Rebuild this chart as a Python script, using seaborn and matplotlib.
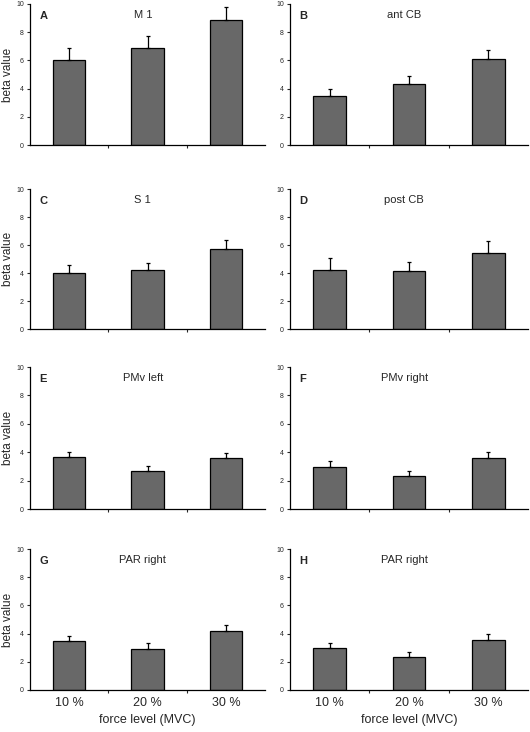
import matplotlib
matplotlib.use("Agg")
import matplotlib.pyplot as plt
import seaborn as sns
import pandas as pd
import numpy as np

sns.set_theme(style="white")
plt.rcParams['font.family'] = ['Liberation Sans', 'DejaVu Sans']

force_levels = ["10 %", "20 %", "30 %"]
letters = ["A", "B", "C", "D", "E", "F", "G", "H"]
regions = ["M 1", "ant CB", "S 1", "post CB", "PMv left", "PMv right", "PAR right", "PAR right"]

m1_mean = [6.0, 6.9, 8.9]
m1_err = [0.9, 0.85, 0.9]
antcb_mean = [3.45, 4.3, 6.1]
antcb_err = [0.52, 0.57, 0.62]
s1_mean = [4.02, 4.2, 5.68]
s1_err = [0.55, 0.5, 0.68]
postcb_mean = [4.25, 4.13, 5.42]
postcb_err = [0.82, 0.67, 0.87]
pmvl_mean = [3.65, 2.68, 3.62]
pmvl_err = [0.38, 0.33, 0.35]
pmvr_mean = [2.96, 2.32, 3.58]
pmvr_err = [0.42, 0.35, 0.4]
parr_mean = [3.5, 2.88, 4.2]
parr_err = [0.36, 0.46, 0.38]
parr2_mean = [2.97, 2.35, 3.58]
parr2_err = [0.38, 0.31, 0.38]

means = [m1_mean, antcb_mean, s1_mean, postcb_mean, pmvl_mean, pmvr_mean, parr_mean, parr2_mean]
errs = [m1_err, antcb_err, s1_err, postcb_err, pmvl_err, pmvr_err, parr_err, parr2_err]

fig = plt.figure(figsize=(5.30, 7.32), dpi=100)
W, H = 530.0, 732.0
col_x = [(30, 265), (290, 528)]
row_y = [(4, 145), (189, 329), (367, 509), (549, 690)]

for i in range(8):
    r, c = divmod(i, 2)
    x0, x1 = col_x[c]
    y0, y1 = row_y[r]
    ax = fig.add_axes([x0 / W, 1 - y1 / H, (x1 - x0) / W, (y1 - y0) / H])
    df = pd.DataFrame({"force": force_levels, "beta": means[i]})
    sns.barplot(data=df, x="force", y="beta", ax=ax, color="#686868",
                saturation=1, width=0.41, edgecolor="black", linewidth=0.9,
                errorbar=None)
    ax.errorbar(np.arange(3), means[i], yerr=[np.zeros(3), errs[i]], fmt="none",
                ecolor="black", elinewidth=0.9, capsize=1.5, capthick=0.9, zorder=3)
    ax.set_xlim(-0.5, 2.5)
    ax.set_ylim(0, 10)
    ax.set_yticks([0, 2, 4, 6, 8, 10])
    ax.tick_params(axis="y", which="major", labelsize=5, length=2.5, width=0.8,
                   direction="out", left=True, pad=2)
    ax.set_xticks([0.5, 1.5], minor=True)
    ax.tick_params(axis="x", which="minor", length=2.5, width=0.8, direction="out", bottom=True)
    ax.tick_params(axis="x", which="major", length=0, labelsize=9, pad=5)
    for s in ["top", "right"]:
        ax.spines[s].set_visible(False)
    for s in ["left", "bottom"]:
        ax.spines[s].set_color("black")
        ax.spines[s].set_linewidth(0.9)
    if r == 3:
        ax.set_xlabel("force level (MVC)", fontsize=9, labelpad=4)
    else:
        ax.set_xticklabels([])
        ax.set_xlabel("")
    if c == 0:
        ax.set_ylabel("beta value", fontsize=8.5)
        ax.yaxis.set_label_coords(-0.066, 0.5)
    else:
        ax.set_ylabel("")
    ax.text(0.04, 0.915, letters[i], transform=ax.transAxes, fontsize=8,
            fontweight="bold", ha="left", va="center")
    ax.text(0.48, 0.92, regions[i], transform=ax.transAxes, fontsize=8,
            ha="center", va="center")

fig.savefig("out.png", dpi=100)
